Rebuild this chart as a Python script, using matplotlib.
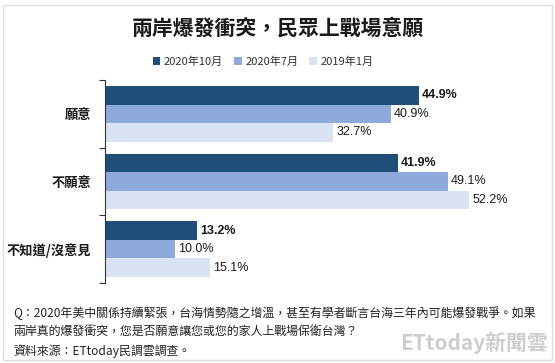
import matplotlib
matplotlib.use("Agg")
import matplotlib.pyplot as plt
from matplotlib.patches import Rectangle
import numpy as np

plt.rcParams['font.family'] = ['Noto Sans CJK TC', 'DejaVu Sans']

categories = ["願意", "不願意", "不知道/沒意見"]
series_names = ["2020年10月", "2020年7月", "2019年1月"]
values = [
    [44.9, 41.9, 13.2],
    [40.9, 49.1, 10.0],
    [32.7, 52.2, 15.1],
]
colors = ["#1f4e79", "#8eaadb", "#dae3f3"]

fig = plt.figure(figsize=(5.55, 3.63), dpi=100)
W, H = 555, 363
ax = fig.add_axes([105 / W, 1 - 283 / H, (540 - 105) / W, (283 - 80) / H])

n = len(categories)
bar_h = 0.275
for si, (name, vals) in enumerate(zip(series_names, values)):
    ys = np.arange(n) + (si - 1) * bar_h
    ax.barh(ys, vals, height=bar_h, color=colors[si], label=name)
    for y, v in zip(ys, vals):
        ax.text(v + 0.4, y, f"{v:.1f}%", va="center", ha="left",
                fontsize=9, fontweight="bold" if si == 0 else "normal",
                color="#1a1a1a", family=['Liberation Sans', 'DejaVu Sans'])

ax.set_ylim(n - 0.5, -0.5)
ax.set_xlim(0, 62.3)
ax.set_yticks(np.arange(-0.5, n, 1.0), minor=False)
ax.set_yticklabels([])
ax.set_yticks(np.arange(n), minor=True)
ax.set_yticklabels(categories, minor=True, fontsize=9.5, fontweight="bold", color="#1a1a1a")
ax.tick_params(axis="y", which="minor", length=0, pad=10)
ax.tick_params(axis="y", which="major", length=4, color="#333333", width=0.8)
ax.set_xticks([])
for s in ["top", "right", "bottom"]:
    ax.spines[s].set_visible(False)
ax.spines["left"].set_color("#333333")
ax.spines["left"].set_linewidth(0.8)

fig.text(0.5, 1 - 28 / H, "兩岸爆發衝突，民眾上戰場意願", ha="center", va="center",
         fontsize=15, fontweight="bold", color="#1a1a1a")

leg = fig.legend(loc="center", bbox_to_anchor=(0.474, 1 - 62 / H), ncol=3, frameon=False,
                 fontsize=8, handlelength=0.7, handleheight=0.7, handletextpad=0.3,
                 columnspacing=1.0)
for t in leg.get_texts():
    t.set_color("#333333")

fig.text(13 / W, 1 - 313 / H, "Q：2020年美中關係持續緊張，台海情勢隨之增溫，甚至有學者斷言台海三年內可能爆發戰爭。如果",
         fontsize=8.6, color="#222222", va="center")
fig.text(13 / W, 1 - 332 / H, "兩岸真的爆發衝突，您是否願意讓您或您的家人上戰場保衛台灣？",
         fontsize=8.6, color="#222222", va="center")
fig.text(13 / W, 1 - 351 / H, "資料來源：ETtoday民調雲調查。",
         fontsize=8.6, color="#222222", va="center")

fig.text(548 / W, 1 - 343 / H, "ETtoday新聞雲", ha="right", va="center",
         fontsize=15, fontweight="bold", color="#c8c8c8", alpha=0.9)

fig.patches.append(Rectangle((3 / W, 3 / H), 549 / W, 355 / H, transform=fig.transFigure,
                             fill=False, edgecolor="#dddddd", linewidth=1))

fig.savefig("out.png", dpi=100)
